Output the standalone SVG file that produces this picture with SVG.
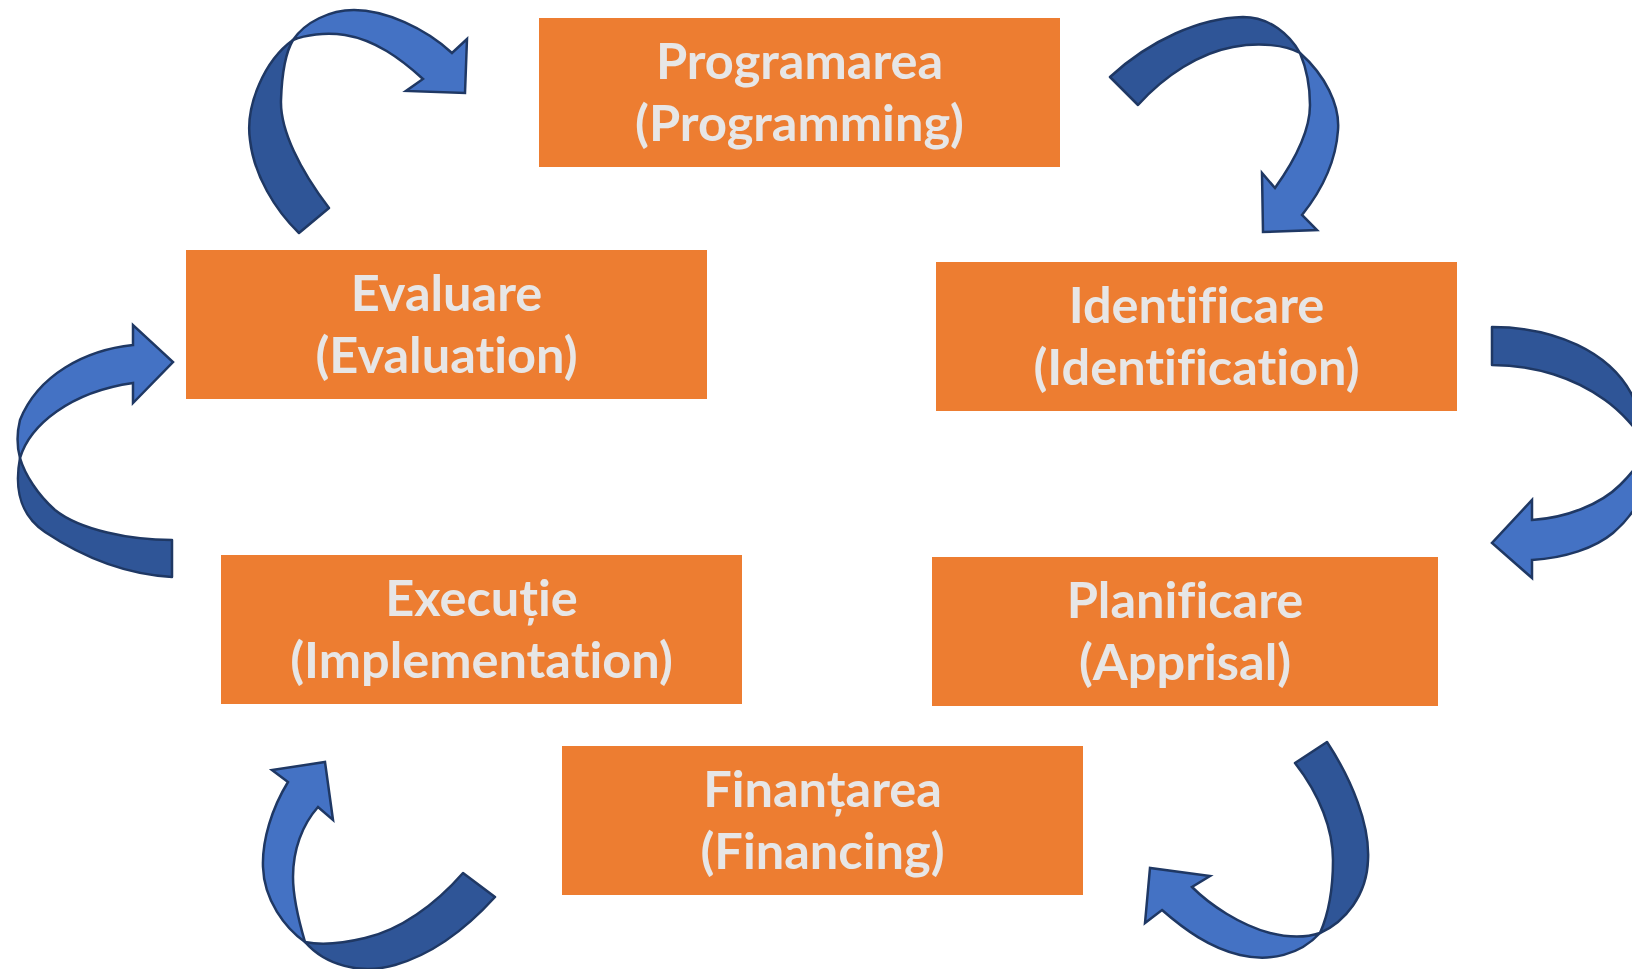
<svg xmlns="http://www.w3.org/2000/svg" width="1632" height="969" viewBox="0 0 1632 969">
<style>
.box{fill:#ED7D31;}
.lbl{font-family:Lato,"Open Sans","Liberation Sans",sans-serif;font-weight:bold;font-size:50.5px;fill:#E7E6E6;text-anchor:middle;font-variant-ligatures:none;}
.dark{fill:#2F5597;stroke:#1F3864;stroke-width:2.5;stroke-linejoin:round;}
.light{fill:#4472C4;stroke:#1F3864;stroke-width:2.5;stroke-linejoin:miter;}
</style>
<rect width="1632" height="969" fill="#FFFFFF"/>
<g id="programarea"><rect class="box" x="539" y="18" width="521" height="149"/><text class="lbl" x="799.5" y="79">Programarea</text><text class="lbl" x="799.5" y="141">(Programming)</text></g>
<g id="identificare"><rect class="box" x="936" y="262" width="521" height="149"/><text class="lbl" x="1196.5" y="323">Identificare</text><text class="lbl" x="1196.5" y="385">(Identification)</text></g>
<g id="evaluare"><rect class="box" x="186" y="250" width="521" height="149"/><text class="lbl" x="446.5" y="311">Evaluare</text><text class="lbl" x="446.5" y="373">(Evaluation)</text></g>
<g id="executie"><rect class="box" x="221" y="555" width="521" height="149"/><text class="lbl" x="481.5" y="616">Execuție</text><text class="lbl" x="481.5" y="678">(Implementation)</text></g>
<g id="planificare"><rect class="box" x="932" y="557" width="506" height="149"/><text class="lbl" x="1185" y="618">Planificare</text><text class="lbl" x="1185" y="680">(Apprisal)</text></g>
<g id="finantarea"><rect class="box" x="562" y="746" width="521" height="149"/><text class="lbl" x="822.5" y="807">Finanțarea</text><text class="lbl" x="822.5" y="869">(Financing)</text></g>
<g id="connectors">
<g id="arrow-eval-prog">
<path class="dark" d="M293,40 C265,60 245,105 250,140 C254,175 275,210 299,233 L329,208 C300,170 280,130 281,100 C282,70 287,50 293,40 Z"/>
<path class="light" d="M293,40 C305,22 330,10 354,10 C385,10 425,28 452,53 L467,39 L465,93 L406,91 L423,79 C400,58 375,40 345,35 C325,32 305,35 293,40 Z"/>
</g>
<g id="arrow-prog-ident">
<path class="dark" d="M1110,77 C1150,40 1200,18 1243,17 C1270,17 1290,35 1300,53 C1285,45 1260,42 1233,47 C1200,53 1165,75 1138,105 Z"/>
<path class="light" d="M1300,53 C1325,75 1340,105 1338,130 C1336,160 1322,190 1302,215 L1317,230 L1263,232 L1262,173 L1275,188 C1295,160 1310,130 1310,105 C1310,85 1305,65 1300,53 Z"/>
</g>
<g id="arrow-ident-plan">
<path class="dark" d="M1492,327 C1555,327 1610,352 1632,395 C1640,412 1646,430 1648,445 C1635,428 1622,412 1605,400 C1575,378 1535,365 1492,365 Z"/>
<path class="light" d="M1648,445 C1652,480 1640,510 1613,533 C1595,548 1565,558 1532,560 L1532,578 L1492,543 L1532,500 L1532,520 C1565,518 1600,505 1620,485 C1635,470 1645,455 1648,445 Z"/>
</g>
<g id="arrow-exec-eval">
<path class="dark" d="M20,458 C14,490 20,515 45,532 C75,552 120,574 172,577 L172,540 C130,540 80,530 55,510 C38,495 25,475 20,458 Z"/>
<path class="light" d="M133,345 C85,350 38,375 20,420 C17,432 17,447 20,458 C30,425 70,392 133,383 L133,403 L173,362 L133,325 Z"/>
</g>
<g id="arrow-fin-exec">
<path class="dark" d="M305,942 C325,965 360,975 395,965 C430,955 465,930 495,897 L463,873 C435,905 400,930 365,938 C340,944 320,945 305,942 Z"/>
<path class="light" d="M288,782 C272,808 262,840 263,867 C264,900 285,928 305,942 C300,925 293,900 293,877 C293,850 302,825 318,807 L333,820 L325,762 L272,770 Z"/>
</g>
<g id="arrow-plan-fin">
<path class="dark" d="M1327,742 C1352,780 1370,825 1368,860 C1367,895 1345,922 1320,933 C1328,915 1333,890 1333,860 C1333,830 1320,795 1295,763 Z"/>
<path class="light" d="M1320,933 C1300,955 1270,962 1240,955 C1210,948 1185,930 1162,910 L1145,923 L1150,868 L1210,876 L1192,887 C1210,905 1240,925 1270,933 C1290,938 1308,937 1320,933 Z"/>
</g>
</g>
</svg>
